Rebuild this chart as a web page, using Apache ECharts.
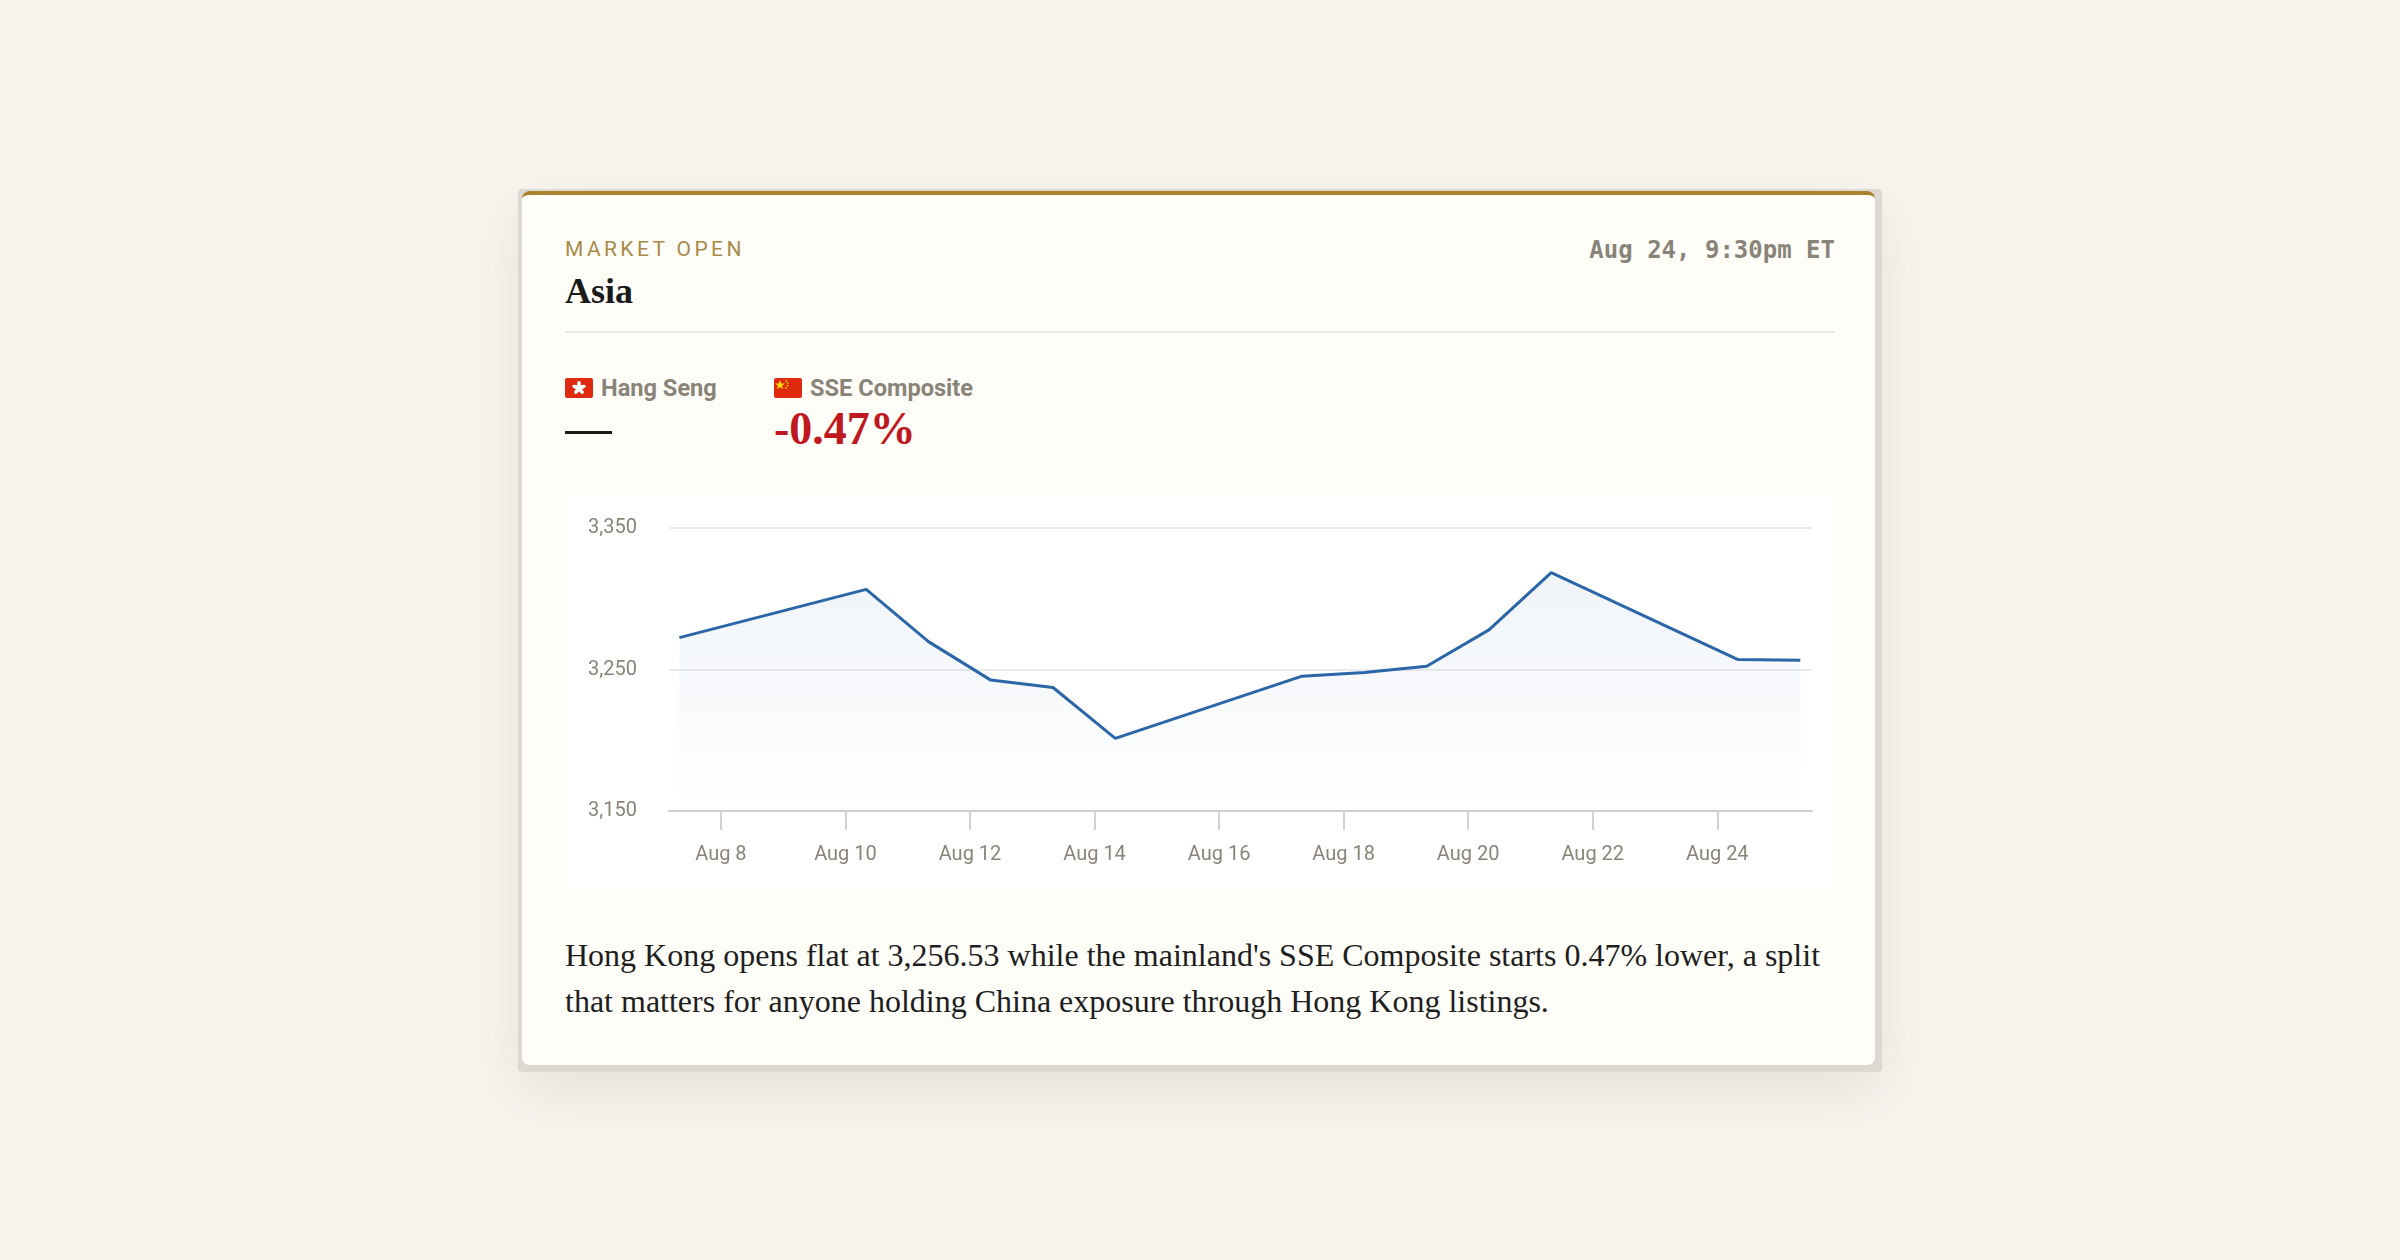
<!DOCTYPE html>
<html>
<head>
<meta charset="utf-8">
<script src="https://cdn.jsdelivr.net/npm/echarts@6/dist/echarts.min.js"></script>
<style>
  html, body { margin: 0; padding: 0; }
  body { width: 2400px; height: 1260px; background: #f8f5ee; position: relative; overflow: hidden; }
  .frame {
    position: absolute; left: 518px; top: 189px; width: 1364px; height: 883px;
    background: #dcd9d2; border-radius: 4px;
    box-shadow: 0 22px 60px rgba(70, 60, 40, 0.10);
  }
  .card {
    position: absolute; left: 522px; top: 191px; width: 1353px; height: 874px;
    background: #fefdf8; border-radius: 8px; box-sizing: border-box;
    border-top: 4px solid #a8822f;
  }
  .kicker {
    position: absolute; left: 43px; top: 42px; line-height: 24px;
    font-family: Roboto, sans-serif; font-size: 21px; letter-spacing: 3.4px;
    color: #a88a48;
  }
  .title {
    position: absolute; left: 43px; top: 76px; line-height: 40px;
    font-family: "Liberation Serif", serif; font-weight: bold; font-size: 36px;
    color: #1a1a1a;
  }
  .stamp {
    position: absolute; right: 40px; top: 41px; line-height: 28px;
    font-family: "DejaVu Sans Mono", monospace; font-weight: bold; font-size: 24px;
    color: #8a8478;
  }
  .rule {
    position: absolute; left: 43px; right: 40px; top: 136px; height: 2px;
    background: #ebe8e1;
  }
  .idx { position: absolute; top: 179px; }
  .idx .name {
    display: flex; align-items: center; height: 28px; white-space: nowrap;
    font-family: Roboto, sans-serif; font-weight: bold; font-size: 23.6px;
    color: #8a8478;
  }
  .idx .name svg { margin-right: 8px; }
  .flat { position: absolute; left: 0; top: 57px; width: 47px; height: 3px; background: #1a1a1a; }
  .chg {
    position: absolute; left: 0; top: 30px; line-height: 50px; white-space: nowrap;
    font-family: "Liberation Serif", serif; font-weight: bold; font-size: 46px;
    color: #c0181f;
  }
  #chart { position: absolute; left: 43px; top: 299px; width: 1270px; height: 397px; }
  .note {
    position: absolute; left: 43px; top: 737px; width: 1275px; line-height: 46px;
    font-family: "Liberation Serif", serif; font-size: 32px; color: #1e1e1e;
  }
</style>
</head>
<body>
<div class="frame"></div>
<div class="card">
  <div class="kicker">MARKET OPEN</div>
  <div class="title">Asia</div>
  <div class="stamp">Aug 24, 9:30pm ET</div>
  <div class="rule"></div>

  <div class="idx" style="left:43px">
    <div class="name">
      <svg width="28" height="20" viewBox="0 0 28 20">
        <rect x="0" y="0" width="28" height="20" rx="2" fill="#de2910"/>
        <g fill="#ffffff" transform="translate(14 10)">
          <ellipse cx="0" cy="-3.6" rx="1.9" ry="3.4"/>
          <ellipse cx="0" cy="-3.6" rx="1.9" ry="3.4" transform="rotate(72)"/>
          <ellipse cx="0" cy="-3.6" rx="1.9" ry="3.4" transform="rotate(144)"/>
          <ellipse cx="0" cy="-3.6" rx="1.9" ry="3.4" transform="rotate(216)"/>
          <ellipse cx="0" cy="-3.6" rx="1.9" ry="3.4" transform="rotate(288)"/>
        </g>
      </svg>Hang Seng
    </div>
    <div class="flat"></div>
  </div>

  <div class="idx" style="left:252px">
    <div class="name">
      <svg width="28" height="20" viewBox="0 0 28 20">
        <rect x="0" y="0" width="28" height="20" rx="2" fill="#de2910"/>
        <polygon fill="#ffde00" points="6,2.2 7.3,5.6 10.9,5.6 8,7.8 9.1,11.2 6,9.1 2.9,11.2 4,7.8 1.1,5.6 4.7,5.6"/>
        <circle cx="12" cy="2.6" r="0.9" fill="#ffde00"/>
        <circle cx="13.6" cy="4.8" r="0.9" fill="#ffde00"/>
        <circle cx="13.6" cy="7.6" r="0.9" fill="#ffde00"/>
        <circle cx="12" cy="9.8" r="0.9" fill="#ffde00"/>
      </svg>SSE Composite
    </div>
    <div class="chg">-0.47%</div>
  </div>

  <div id="chart"></div>

  <div class="note">Hong Kong opens flat at 3,256.53 while the mainland's SSE Composite starts 0.47% lower, a split that matters for anyone holding China exposure through Hong Kong listings.</div>
</div>

<script>
// sessions (local open time) and index level
var sessionDates = ['2020-08-07', '2020-08-10', '2020-08-11', '2020-08-12', '2020-08-13', '2020-08-14',
                    '2020-08-17', '2020-08-18', '2020-08-19', '2020-08-20', '2020-08-21', '2020-08-24', '2020-08-25'];
var sessionTime = '08:00';
var levels = [3272.5, 3306.6, 3269.7, 3242.5, 3237.3, 3201.3,
              3245.3, 3247.8, 3252.3, 3278.0, 3318.5, 3257.0, 3256.53];

// x axis ticks / range
var tickDates = ['2020-08-08', '2020-08-10', '2020-08-12', '2020-08-14', '2020-08-16',
                 '2020-08-18', '2020-08-20', '2020-08-22', '2020-08-24'];
var xStart = '2020-08-07T04:00';
var xEnd = '2020-08-25T12:30';

// y axis
var yMin = 3150, yMax = 3350, yStep = 100;

var monthNames = ['Jan', 'Feb', 'Mar', 'Apr', 'May', 'Jun', 'Jul', 'Aug', 'Sep', 'Oct', 'Nov', 'Dec'];

function toTime(s) {
    return new Date(s.length > 10 ? s : s + 'T00:00').getTime();
}

var seriesData = [];
for (var i = 0; i < sessionDates.length; i++) {
    seriesData.push([toTime(sessionDates[i] + 'T' + sessionTime), levels[i]]);
}
var tickValues = tickDates.map(toTime);

var myChart = echarts.init(document.getElementById('chart'));
var option = {
    backgroundColor: '#ffffff',
    animation: false,
    grid: { left: 104, right: 23, top: 34, bottom: 80 },
    xAxis: {
        type: 'value',
        scale: true,
        min: toTime(xStart),
        max: toTime(xEnd),
        axisLine: { lineStyle: { color: '#cdcdcd', width: 2 } },
        axisTick: {
            show: true, length: 19, customValues: tickValues,
            lineStyle: { color: '#d2d2d2', width: 2 }
        },
        axisLabel: {
            customValues: tickValues,
            margin: 34,
            color: '#8a8478',
            fontFamily: 'Roboto',
            fontSize: 20,
            formatter: function (v) {
                var d = new Date(v);
                return monthNames[d.getMonth()] + ' ' + d.getDate();
            }
        },
        splitLine: { show: false }
    },
    yAxis: {
        type: 'value',
        min: yMin,
        max: yMax,
        interval: yStep,
        axisLine: { show: false },
        axisTick: { show: false },
        axisLabel: {
            margin: 32,
            padding: [5, 0, 0, 0],
            color: '#8a8478',
            fontFamily: 'Roboto',
            fontSize: 20,
            formatter: function (v) { return v.toLocaleString('en-US'); }
        },
        splitLine: { lineStyle: { color: '#ebebeb', width: 2 } }
    },
    series: [{
        type: 'line',
        data: seriesData,
        symbol: 'none',
        lineStyle: { color: '#2a66a8', width: 3 },
        areaStyle: {
            color: new echarts.graphic.LinearGradient(0, 0, 0, 1, [
                { offset: 0, color: 'rgba(42, 102, 168, 0.10)' },
                { offset: 1, color: 'rgba(42, 102, 168, 0.00)' }
            ])
        }
    }]
};
myChart.setOption(option);
</script>
</body>
</html>
